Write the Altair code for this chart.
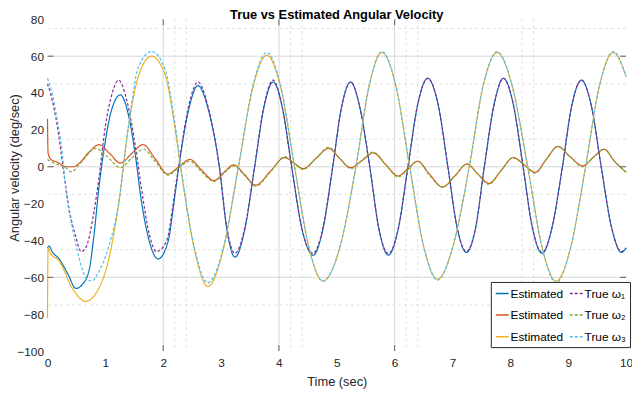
import altair as alt
import pandas as pd

# ---------------- data ----------------
t_est1 = [0.00, 0.03, 0.08, 0.20, 0.35, 0.49, 0.60, 0.72, 0.80, 0.89, 1.00, 1.10, 1.26, 1.40, 1.52, 1.62, 1.74, 1.91, 2.08, 2.20,
          2.27, 2.44, 2.60, 2.78, 2.97, 3.10, 3.24, 3.41, 3.58, 3.74, 3.90, 4.06, 4.22, 4.40, 4.59, 4.76, 4.93, 5.08, 5.24, 5.40,
          5.57, 5.73, 5.89, 6.06, 6.23, 6.40, 6.57, 6.75, 6.92, 7.08, 7.24, 7.40, 7.55, 7.72, 7.88, 8.05, 8.22, 8.38, 8.55, 8.72,
          8.90, 9.06, 9.23, 9.40, 9.57, 9.75, 9.92, 10.00]
v_est1 = [-44, -43, -46, -50, -58, -66, -64, -56, -38, -11, 14, 30, 39, 28, 6, -18, -38, -50, -41, -16,
          0, 31, 44, 31, 0, -34, -49, -34, 0, 32, 46, 32, 0, -34, -48, -34, 0, 32, 46, 32,
          0, -34, -48, -34, 0, 34, 48, 34, 0, -33, -46.5, -33, 0, 34, 48, 34, 0, -33, -47, -33,
          0, 33, 47, 33, 0, -33, -46.5, -44]

t_true1 = [0.00, 0.05, 0.17, 0.29, 0.38, 0.49, 0.58, 0.66, 0.80, 0.89, 1.00, 1.12, 1.23, 1.37, 1.52, 1.62, 1.77, 1.88, 2.05, 2.20,
           2.27, 2.44, 2.60, 2.78, 2.97, 3.10, 3.24, 3.41, 3.58, 3.74, 3.90, 4.06, 4.22, 4.40, 4.59, 4.76, 4.93, 5.08, 5.24, 5.40,
           5.57, 5.73, 5.89, 6.06, 6.23, 6.40, 6.57, 6.75, 6.92, 7.08, 7.24, 7.40, 7.55, 7.72, 7.88, 8.05, 8.22, 8.38, 8.55, 8.72,
           8.90, 9.06, 9.23, 9.40, 9.57, 9.75, 9.92, 10.00]
v_true1 = [45, 40, 22, -5, -24, -38, -46, -44, -25, -6, 22, 40, 47, 36, 11, -11, -38, -46, -41, -14,
           1, 33, 46, 32, 0, -33, -47, -33, 0, 33, 47, 32, 0, -34, -47, -33, 0, 32, 46, 32,
           0, -34, -47, -34, 0, 34, 48, 34, 0, -33, -46, -33, 0, 34, 48, 34, 0, -33, -46.5, -33,
           0, 33, 47, 33, 0, -33, -46, -44]

t_est2 = [0.00, 0.01, 0.06, 0.17, 0.32, 0.45, 0.55, 0.72, 0.89, 1.08, 1.26, 1.45, 1.65, 1.87, 2.08, 2.27, 2.46, 2.67, 2.88, 3.05,
          3.22, 3.40, 3.60, 3.85, 4.10, 4.26, 4.42, 4.64, 4.86, 5.05, 5.24, 5.44, 5.63, 5.85, 6.06, 6.23, 6.40, 6.60, 6.83, 7.04,
          7.25, 7.44, 7.63, 7.84, 8.05, 8.24, 8.43, 8.62, 8.82, 9.03, 9.25, 9.43, 9.62, 9.80, 10.00]
v_est2 = [26, 7.5, 4, 2.5, 0, 0, 2, 8, 12, 7, 2, 7, 12, 4, -4, 0, 4, -2, -7.5, -3,
          1, -4, -10, -2.5, 5, 2, -1, 4.5, 10, 4.5, -0.5, 3.5, 7.5, 1, -5, -1, 3, -4, -11, -5,
          1.5, -4, -9, -2, 5, 1, -3, 4, 11, 5.5, 0.5, 5, 9.5, 3, -3]

t_true2 = [0.00, 0.05, 0.20, 0.30, 0.41, 0.60, 0.83, 1.05, 1.26, 1.45, 1.66, 1.87, 2.08, 2.27, 2.46, 2.67, 2.88, 3.05,
           3.22, 3.40, 3.60, 3.85, 4.10, 4.26, 4.42, 4.64, 4.86, 5.05, 5.24, 5.44, 5.63, 5.85, 6.06, 6.23, 6.40, 6.60, 6.83, 7.04,
           7.25, 7.44, 7.63, 7.84, 8.05, 8.24, 8.43, 8.62, 8.82, 9.03, 9.25, 9.43, 9.62, 9.80, 10.00]
v_true2 = [4, 3, 1, 0, -2.7, 3, 10, 5, -0.5, 4.5, 9.5, 2.5, -4.5, -0.5, 3, -3, -8, -3.5,
           0.5, -4.5, -10.5, -3, 5.5, 2, -1.5, 4.5, 10.5, 4.5, -1, 3.5, 8, 1, -5.5, -1.5, 3, -4.5, -11, -5,
           1.5, -4, -9.5, -2, 5, 1, -3.5, 4, 11, 5.5, 0, 5, 9.5, 3, -3]

t_est3 = [0.00, 0.01, 0.05, 0.20, 0.43, 0.66, 0.85, 1.06, 1.23, 1.40, 1.57, 1.80, 2.03, 2.20, 2.30, 2.54, 2.77, 3.03, 3.30, 3.55,
          3.79, 4.03, 4.27, 4.52, 4.76, 5.05, 5.33, 5.56, 5.78, 6.02, 6.26, 6.50, 6.74, 7.01, 7.29, 7.53, 7.77, 8.03, 8.30, 8.55,
          8.79, 9.04, 9.30, 9.54, 9.78, 10.00]
v_est3 = [-82, -44, -47, -51, -66, -73, -68, -50, -20, 22, 49, 60, 50, 22, 0, -45, -65, -46, 0, 43,
          60.5, 43, 0, -44, -62, -44, 0, 44, 62, 44, 0, -43, -61, -43, 0, 44, 62, 44, 0, -44,
          -62, -44, 0, 44, 62, 49]

t_true3 = [0.00, 0.08, 0.15, 0.26, 0.32, 0.43, 0.55, 0.68, 0.77, 0.85, 1.06, 1.23, 1.40, 1.57, 1.80, 2.03, 2.20, 2.30, 2.54, 2.77,
           3.03, 3.30, 3.55, 3.79, 4.03, 4.27, 4.52, 4.76, 5.05, 5.33, 5.56, 5.78, 6.02, 6.26, 6.50, 6.74, 7.01, 7.29, 7.53, 7.77,
           8.03, 8.30, 8.55, 8.79, 9.04, 9.30, 9.54, 9.78, 10.00]
v_true3 = [48, 40, 29, 6, -13, -33, -50, -61, -62, -59, -43, -20, 22, 54, 62.5, 53, 24, 1, -44, -63,
           -45, 0, 44, 62, 44, 0, -44, -62, -44, 0, 44, 62.5, 44, 0, -43, -61.5, -43, 0, 44, 62.5,
           44, 0, -44, -63, -44, 0, 44, 62.5, 49]

# drawing order of the curves
series_names = ["Estimated ω₁", "True ω₁", "Estimated ω₂", "True ω₂", "Estimated ω₃", "True ω₃"]
# legend (column-major) order and styles
legend_order = ["Estimated ω₁", "Estimated ω₂", "Estimated ω₃", "True ω₁", "True ω₂", "True ω₃"]
legend_colors = ["#0072BD", "#D95319", "#EDB120", "#7E2F8E", "#77AC30", "#4DBEEE"]
legend_dashes = [[1, 0], [1, 0], [1, 0], [3, 2], [3, 2], [3, 2]]

x_labels = [0, 1, 2, 3, 4, 5, 6, 7, 8, 9, 10]
y_labels = [-100, -80, -60, -40, -20, 0, 20, 40, 60, 80]
x_domain = [0, 10]
y_domain = [-100, 80]

grid_major_x = [2, 4, 6]
grid_minor_x = [2.2, 2.4, 4.2, 4.4, 6.2, 6.4, 8.2, 8.4]
grid_major_y = [-60, 0, 60]
grid_minor_y = [-75, -45, -15, 15, 45, 75]

# ---------------- tables ----------------
rows = []
for name, (ts, vs) in zip(series_names, [(t_est1, v_est1), (t_true1, v_true1), (t_est2, v_est2),
                                          (t_true2, v_true2), (t_est3, v_est3), (t_true3, v_true3)]):
    for t, v in zip(ts, vs):
        rows.append({"t": t, "v": v, "series": name})
df = pd.DataFrame(rows)

FONT = "Liberation Sans"
TXT = "#262626"

x_enc = alt.X("t:Q", scale=alt.Scale(domain=x_domain, nice=False, zero=False),
              axis=alt.Axis(values=x_labels, format="d", labelFontSize=12, labelColor=TXT, labelFont=FONT,
                            ticks=False, domain=False, grid=False, labelPadding=7, labelFlush=False,
                            title="Time (sec)", titleFontSize=13, titleFontWeight="normal", titleColor=TXT,
                            titleFont=FONT, titleY=35, titleBaseline="alphabetic"))
y_enc = alt.Y("v:Q", scale=alt.Scale(domain=y_domain, nice=False, zero=False),
              axis=alt.Axis(values=y_labels, labelFontSize=12, labelColor=TXT, labelFont=FONT,
                            ticks=False, domain=False, grid=False, labelPadding=4, labelFlush=False,
                            title="Angular velocity (deg/sec)", titleFontSize=13, titleFontWeight="normal",
                            titleColor=TXT, titleFont=FONT, titleX=-29, titleY=150, titleBaseline="alphabetic"))

gx_minor = alt.Chart(pd.DataFrame({"t": grid_minor_x})).mark_rule(
    color="#e0e0e0", strokeWidth=1, strokeDash=[3, 3]).encode(x=x_enc)
gy_minor = alt.Chart(pd.DataFrame({"v": grid_minor_y})).mark_rule(
    color="#e0e0e0", strokeWidth=1, strokeDash=[3, 3]).encode(y=y_enc)
gx_major = alt.Chart(pd.DataFrame({"t": grid_major_x})).mark_rule(
    color="#d6d6d6", strokeWidth=1).encode(x=x_enc)
gy_major = alt.Chart(pd.DataFrame({"v": grid_major_y})).mark_rule(
    color="#d6d6d6", strokeWidth=1).encode(y=y_enc)

legend = alt.Legend(orient="none", legendX=449, legendY=266, columns=2, title=None,
                    symbolType="stroke", symbolSize=169, symbolStrokeWidth=1.5,
                    labelFontSize=12, labelFont=FONT, labelColor="#000000",
                    labelExpr="indexof(datum.label, 'Estimated') == 0 ? 'Estimated' : datum.label",
                    padding=4, rowPadding=8, columnPadding=3, labelOffset=1,
                    fillColor="white", strokeColor=TXT)

lines = alt.Chart(df).mark_line(strokeWidth=1.2, interpolate="monotone").encode(
    x=x_enc, y=y_enc,
    color=alt.Color("series:N", scale=alt.Scale(domain=legend_order, range=legend_colors), legend=legend),
    strokeDash=alt.StrokeDash("series:N", scale=alt.Scale(domain=legend_order, range=legend_dashes), legend=legend),
    detail="series:N",
)

ticks_top = alt.Chart(pd.DataFrame({"t": grid_major_x, "v": [y_domain[1]] * len(grid_major_x)})).mark_tick(
    orient="vertical", size=6, thickness=1, yOffset=3, color=TXT).encode(x=x_enc, y=y_enc)
ticks_bot = alt.Chart(pd.DataFrame({"t": grid_major_x, "v": [y_domain[0]] * len(grid_major_x)})).mark_tick(
    orient="vertical", size=6, thickness=1, yOffset=-3, color=TXT).encode(x=x_enc, y=y_enc)
ticks_left = alt.Chart(pd.DataFrame({"v": grid_major_y, "t": [x_domain[0]] * len(grid_major_y)})).mark_tick(
    orient="horizontal", size=6, thickness=1, xOffset=3, color=TXT).encode(x=x_enc, y=y_enc)
ticks_right = alt.Chart(pd.DataFrame({"v": grid_major_y, "t": [x_domain[1]] * len(grid_major_y)})).mark_tick(
    orient="horizontal", size=6, thickness=1, xOffset=-3, color=TXT).encode(x=x_enc, y=y_enc)

chart = alt.layer(gx_minor, gy_minor, gx_major, gy_major, lines,
                  ticks_top, ticks_bot, ticks_left, ticks_right).properties(
    width=586, height=336,
    padding={"left": 40, "top": 9, "right": 6, "bottom": 41},
    autosize=alt.AutoSizeParams(type="none"),
    title=alt.TitleParams("True vs Estimated Angular Velocity", fontSize=13, fontWeight="bold", font=FONT,
                          color="#000000", anchor="middle", frame="group", offset=-19, baseline="alphabetic"),
).configure_view(stroke=None)

chart.save("out.html", embed_options={"renderer": "svg", "actions": False})
